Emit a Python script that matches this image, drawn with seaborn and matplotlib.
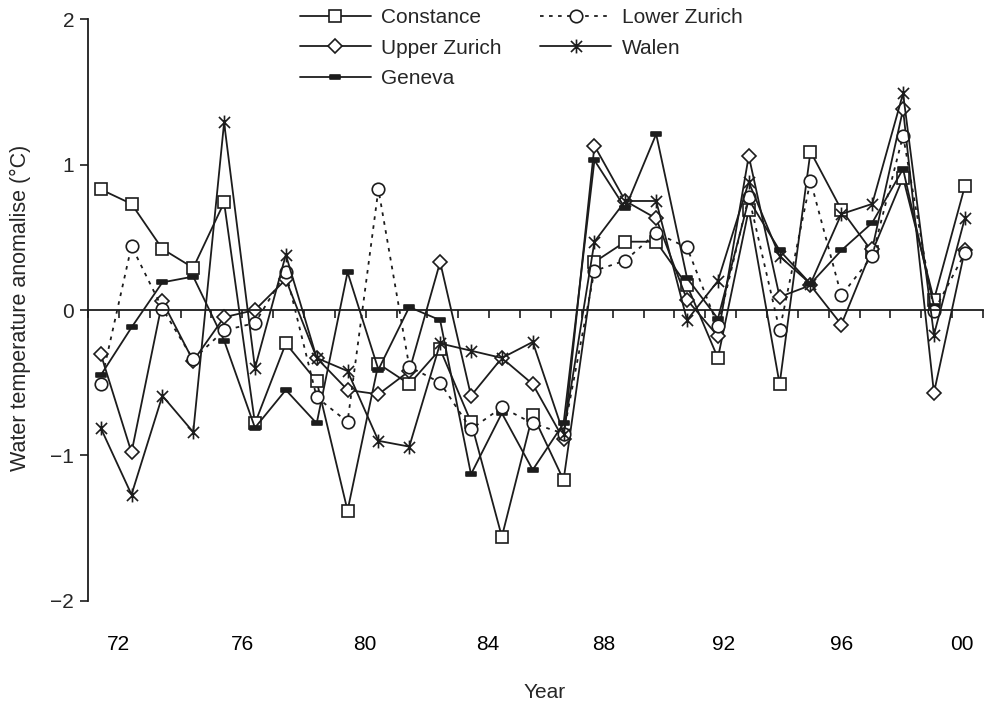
import numpy as np
import matplotlib
matplotlib.use("Agg")
import matplotlib.pyplot as plt
import matplotlib.transforms as mtransforms
from matplotlib.path import Path
import seaborn as sns

# yearly water temperature anomalies (deg C)
years = list(range(1972, 2001))
constance = [0.83, 0.73, 0.42, 0.29, 0.74, -0.78, -0.23, -0.49, -1.38, -0.37,
             -0.51, -0.27, -0.77, -1.56, -0.72, -1.17, 0.33, 0.47, 0.47, 0.17,
             -0.33, 0.69, -0.51, 1.09, 0.69, 0.40, 0.91, 0.07, 0.85]
lower_zurich = [-0.51, 0.44, 0.01, -0.34, -0.14, -0.09, 0.26, -0.60, -0.77, 0.83,
                -0.39, -0.50, -0.82, -0.67, -0.78, -0.85, 0.27, 0.34, 0.53, 0.43,
                -0.11, 0.78, -0.14, 0.89, 0.10, 0.37, 1.20, -0.01, 0.39]
upper_zurich = [-0.30, -0.98, 0.06, -0.35, -0.05, 0.00, 0.21, -0.33, -0.55, -0.58,
                -0.42, 0.33, -0.59, -0.33, -0.51, -0.89, 1.13, 0.75, 0.63, 0.07,
                -0.18, 1.06, 0.09, 0.17, -0.10, 0.42, 1.38, -0.57, 0.41]
walen = [-0.81, -1.27, -0.59, -0.84, 1.29, -0.40, 0.38, -0.33, -0.42, -0.90,
         -0.94, -0.23, -0.28, -0.33, -0.22, -0.85, 0.47, 0.75, 0.75, -0.07,
         0.20, 0.88, 0.37, 0.18, 0.66, 0.73, 1.49, -0.17, 0.63]
geneva = [-0.45, -0.12, 0.19, 0.23, -0.21, -0.81, -0.55, -0.78, 0.26, -0.41,
          0.02, -0.07, -1.13, -0.71, -1.10, -0.78, 1.03, 0.70, 1.21, 0.22,
          -0.06, 0.76, 0.41, 0.18, 0.41, 0.60, 0.97, 0.03, np.nan]

year_labels = ["72", "76", "80", "84", "88", "92", "96", "00"]
year_label_pos = [1972.59, 1976.59, 1980.55, 1984.54, 1988.3, 1992.17, 1996.0, 1999.9]

sns.set_style("ticks")
plt.rcParams["font.family"] = ["Liberation Sans", "DejaVu Sans"]
plt.rcParams["font.size"] = 15

ink = "#1c1c1c"

# marker shapes
M, L = Path.MOVETO, Path.LINETO
asterisk = Path([(0, -1), (0, 1), (-0.8, -0.8), (0.8, 0.8), (-0.8, 0.8), (0.8, -0.8)],
                [M, L, M, L, M, L])
bar = Path([(-1, -0.5), (1, -0.5), (1, 0.5), (-1, 0.5), (-1, -0.5)],
           [M, L, L, L, Path.CLOSEPOLY])

fig = plt.figure(figsize=(9.94, 7.02), dpi=100)
ax = fig.add_axes([88 / 994, 1 - 600.7 / 702, 895 / 994, 581.4 / 702])

common = dict(ax=ax, color=ink, linewidth=1.3, markeredgecolor=ink,
              markeredgewidth=1.2, estimator=None)

sns.lineplot(x=years, y=constance, marker="s", markersize=8,
             markerfacecolor="white", label="Constance", **common)
sns.lineplot(x=years, y=upper_zurich, marker="D", markersize=7,
             markerfacecolor="white", label="Upper Zurich", **common)
sns.lineplot(x=years, y=geneva, marker=bar, markersize=7,
             markerfacecolor=ink, label="Geneva", **common)
sns.lineplot(x=years, y=lower_zurich, marker="o", markersize=9,
             markerfacecolor="white", linestyle=(0, (2, 3)),
             label="Lower Zurich", **common)
sns.lineplot(x=years, y=walen, marker=asterisk, markersize=10,
             markerfacecolor="none", label="Walen", **common)

ax.set_ylim(-2, 2)
ax.set_xlim(years[0] - 0.41, years[-1] + 0.59)
ax.set_yticks([-2, -1, 0, 1, 2])
ax.tick_params(axis="y", length=6, width=1.2, color=ink, pad=4, labelsize=15)

# x axis drawn through zero, with year ticks hanging below it
ax.spines["bottom"].set_position(("data", 0))
ax.set_xticks(np.arange(years[0] - 0.41, years[-1] + 0.6, 1.0))
ax.set_xticklabels([])
ax.tick_params(axis="x", length=5.5, width=1.2, color=ink, direction="out")
for side in ["top", "right"]:
    ax.spines[side].set_visible(False)
for side in ["left", "bottom"]:
    ax.spines[side].set_linewidth(1.3)
    ax.spines[side].set_color(ink)

trans = mtransforms.blended_transform_factory(ax.transData, ax.transAxes)
for pos, lab in zip(year_label_pos, year_labels):
    ax.text(pos, -0.076, lab, transform=trans, ha="center", va="center",
            fontsize=15, color="black")

fig.text(545 / 994, 1 - 692 / 702, "Year", ha="center", va="center", fontsize=15)
fig.text(20 / 994, 1 - 308 / 702, "Water temperature anomalise (°C)",
         rotation=90, ha="center", va="center", fontsize=15.5)

handles, labels = ax.get_legend_handles_labels()
ax.legend(handles, labels, ncol=2, loc="upper left", frameon=False,
          bbox_to_anchor=(300 / 994, 1 - 8 / 702), bbox_transform=fig.transFigure,
          borderaxespad=0, borderpad=0, handlelength=3.4, handletextpad=0.5,
          columnspacing=1.85, labelspacing=0.56, fontsize=15)

fig.savefig("out.png", dpi=100)
